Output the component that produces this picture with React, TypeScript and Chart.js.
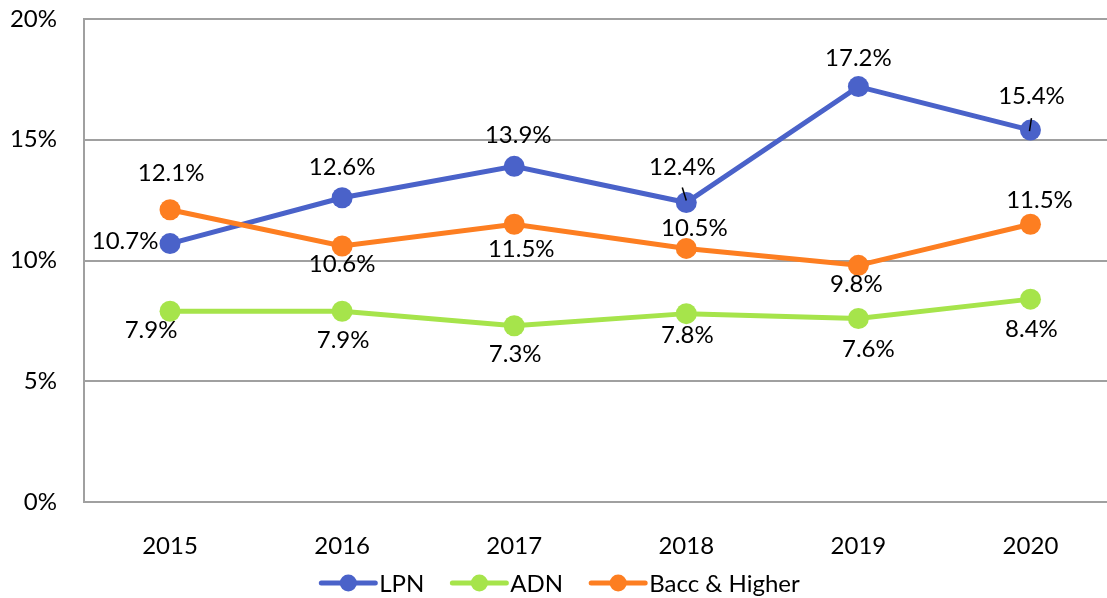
import React, { useEffect, useRef } from "react";
import { Chart, registerables } from "chart.js";

Chart.register(...registerables);

const years = ["2015", "2016", "2017", "2018", "2019", "2020"];
const lpn = [10.7, 12.6, 13.9, 12.4, 17.2, 15.4];
const adn = [7.9, 7.9, 7.3, 7.8, 7.6, 8.4];
const bacc = [12.1, 10.6, 11.5, 10.5, 9.8, 11.5];
const yTicks = [0, 5, 10, 15, 20];

const seriesNames = ["LPN", "ADN", "Bacc & Higher"];
const seriesColors = ["#4A62C9", "#A6E44B", "#FD7E21"];

// label offsets (px) relative to each point, as placed in the reference
const labelOffsets = [
  [[-45, -3], [0, -31], [4, -32], [-4, -36], [0, -29], [1, -35]],
  [[-19, 18], [1, 28], [1, 28], [1, 21], [10, 30], [1, 29]],
  [[1, -37], [0, 17], [7, 24], [8, -21], [-2, 18], [9, -25]],
];
// leader lines: [series, index, x1, y1, x2, y2] relative to point
const leaders = [
  [0, 3, -4, -15, 0, -2],
  [0, 5, 1, -12, -1, 1],
];

const FONT = "Lato, 'Open Sans', sans-serif";
const FSIZE = 24;
const CANVAS_W = 1127;

const zeroPad = (s: any) => {
  s.paddingTop = 0;
  s.paddingBottom = 0;
  s.paddingLeft = 0;
  s.paddingRight = 0;
};

export default function App() {
  const ref = useRef<HTMLCanvasElement | null>(null);
  useEffect(() => {
    if (!ref.current) return;
    const labelPlugin = {
      id: "labels",
      afterDatasetsDraw(chart: any) {
        const ctx = chart.ctx;
        ctx.save();
        ctx.font = `${FSIZE}px ${FONT}`;
        ctx.fillStyle = "#000";
        ctx.textAlign = "center";
        ctx.textBaseline = "alphabetic";
        const cap = FSIZE * 0.36;
        chart.data.datasets.forEach((ds: any, di: number) => {
          const meta = chart.getDatasetMeta(di);
          meta.data.forEach((pt: any, i: number) => {
            const [dx, dy] = labelOffsets[di][i];
            ctx.fillText(ds.data[i].toFixed(1) + "%", pt.x + dx, pt.y + dy + cap);
          });
        });
        ctx.strokeStyle = "#000";
        ctx.lineWidth = 1.5;
        leaders.forEach(([di, i, x1, y1, x2, y2]) => {
          const pt = chart.getDatasetMeta(di).data[i];
          ctx.beginPath();
          ctx.moveTo(pt.x + x1, pt.y + y1);
          ctx.lineTo(pt.x + x2, pt.y + y2);
          ctx.stroke();
        });
        ctx.restore();
      },
      afterDraw(chart: any) {
        const ctx = chart.ctx;
        ctx.save();
        ctx.font = `${FSIZE}px ${FONT}`;
        const lineLen = 54;
        const textGap = 4;
        const itemGap = 28;
        const widths = seriesNames.map((n) => ctx.measureText(n).width);
        const total =
          widths.reduce((a, w) => a + lineLen + textGap + w, 0) + itemGap * (seriesNames.length - 1);
        let x = 560.5 - total / 2;
        const cy = 583;
        seriesNames.forEach((n, k) => {
          ctx.strokeStyle = seriesColors[k];
          ctx.lineWidth = 5;
          ctx.lineCap = "round";
          ctx.beginPath();
          ctx.moveTo(x, cy);
          ctx.lineTo(x + lineLen, cy);
          ctx.stroke();
          ctx.fillStyle = seriesColors[k];
          ctx.beginPath();
          ctx.arc(x + lineLen / 2, cy, 8.5, 0, Math.PI * 2);
          ctx.fill();
          ctx.fillStyle = "#000";
          ctx.textAlign = "left";
          ctx.textBaseline = "alphabetic";
          ctx.fillText(n, x + lineLen + textGap, cy + FSIZE * 0.36);
          x += lineLen + textGap + widths[k] + itemGap;
        });
        ctx.restore();
      },
    };
    const mk = (label: string, data: number[], color: string, order: number) => ({
      label,
      data,
      borderColor: color,
      backgroundColor: color,
      borderWidth: 5,
      pointRadius: 10.5,
      pointBorderWidth: 0,
      pointBackgroundColor: color,
      tension: 0,
      order,
    });
    const chart = new Chart(ref.current, {
      type: "line",
      data: {
        labels: years,
        datasets: [
          mk(seriesNames[0], lpn, seriesColors[0], 2),
          mk(seriesNames[1], adn, seriesColors[1], 1),
          mk(seriesNames[2], bacc, seriesColors[2], 0),
        ],
      },
      options: {
        animation: false,
        responsive: false,
        maintainAspectRatio: false,
        devicePixelRatio: 1,
        layout: { padding: { top: 19, left: 0, right: 3, bottom: 0 } },
        plugins: { legend: { display: false }, tooltip: { enabled: false } },
        scales: {
          x: {
            offset: true,
            grid: { display: false },
            border: { display: false },
            ticks: {
              color: "#000",
              font: { family: FONT, size: FSIZE },
              padding: 22,
              maxRotation: 0,
            },
            afterFit: (s: any) => {
              s.height = 96;
              zeroPad(s);
            },
          },
          y: {
            min: yTicks[0],
            max: yTicks[yTicks.length - 1],
            afterBuildTicks: (s: any) => {
              s.ticks = yTicks.map((v) => ({ value: v }));
            },
            grid: { color: "#A0A0A0", lineWidth: 2, drawTicks: false },
            border: { display: true, color: "#A0A0A0", width: 2 },
            ticks: {
              color: "#000",
              font: { family: FONT, size: FSIZE },
              padding: 27,
              callback: (v: any) => v + "%",
            },
            afterFit: (s: any) => {
              s.width = 84;
              zeroPad(s);
            },
          },
        },
      },
      plugins: [labelPlugin],
    });
    return () => chart.destroy();
  }, []);
  return (
    <div
      style={{
        position: "absolute",
        left: 0,
        top: 0,
        width: 1107,
        height: 598,
        overflow: "hidden",
        background: "#fff",
      }}
    >
      <canvas
        ref={ref}
        width={CANVAS_W}
        height={598}
        style={{ display: "block", width: CANVAS_W, height: 598 }}
      />
    </div>
  );
}
